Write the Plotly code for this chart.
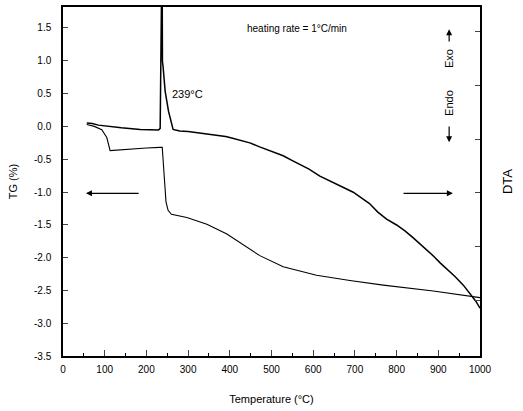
import plotly.graph_objects as go

# TG curve (%)
tg_temp = [57, 75, 93, 105, 113, 150, 200, 233, 238, 241, 244, 247, 252, 260, 297, 345, 393, 440, 472,
           528, 608, 688, 768, 888, 980, 1000]
tg_val = [0.03, 0.0, -0.05, -0.17, -0.37, -0.35, -0.33, -0.32, -0.32, -0.6, -0.95, -1.15, -1.28, -1.34,
          -1.39, -1.49, -1.64, -1.84, -1.97, -2.14, -2.27, -2.35, -2.42, -2.51, -2.59, -2.61]

# DTA curve (arbitrary units)
dta_temp = [57, 70, 85, 105, 140, 185, 215, 229, 233, 235, 236.5, 237.5, 238.5, 240, 245, 253, 264, 280,
            300, 320, 328, 345, 360, 375, 390, 400, 415, 430, 448, 470, 490, 510, 528, 550, 570, 590,
            616, 635, 650, 665, 680, 696, 715, 735, 755, 776, 800, 820, 840, 856, 875, 890, 905, 920,
            940, 960, 976, 990, 1000]
dta_val = [3.30, 3.29, 3.26, 3.24, 3.21, 3.18, 3.17, 3.17, 3.20, 4.2, 5.6, 6.6, 4.45, 4.35, 3.89, 3.52,
           3.18, 3.15, 3.14, 3.12, 3.11, 3.10, 3.08, 3.06, 3.05, 3.03, 3.00, 2.97, 2.93, 2.86, 2.80, 2.73,
           2.69, 2.60, 2.52, 2.44, 2.31, 2.24, 2.18, 2.14, 2.07, 2.01, 1.91, 1.80, 1.64, 1.51, 1.40, 1.29,
           1.16, 1.05, 0.91, 0.81, 0.69, 0.59, 0.44, 0.28, 0.12, -0.02, -0.15]

x_ticks = [0, 100, 200, 300, 400, 500, 600, 700, 800, 900, 1000]
y_ticks = [1.5, 1.0, 0.5, 0.0, -0.5, -1.0, -1.5, -2.0, -2.5, -3.0, -3.5]
y_tick_text = ["1.5", "1.0", "0.5", "0.0", "-0.5", "-1.0", "-1.5", "-2.0", "-2.5", "-3.0", "-3.5"]
y2_ticks = [0, 1, 2, 3, 4, 5]

FONT = "Liberation Sans, Arial, sans-serif"

fig = go.Figure()
fig.add_trace(go.Scatter(x=tg_temp, y=tg_val, mode="lines", line=dict(color="black", width=1.1),
                         showlegend=False, yaxis="y"))
fig.add_trace(go.Scatter(x=dta_temp, y=dta_val, mode="lines", line=dict(color="black", width=1.5),
                         showlegend=False, yaxis="y2"))

fig.update_layout(
    width=523, height=411,
    margin=dict(l=63, r=43, t=5, b=55),
    paper_bgcolor="white", plot_bgcolor="white",
    font=dict(family=FONT, color="black", size=10),
    xaxis=dict(range=[0, 1000], tickvals=x_ticks, ticks="inside", ticklen=6, tickwidth=1.2,
               showline=True, linecolor="black", linewidth=1.5, mirror=True, showgrid=False,
               zeroline=False, tickfont=dict(size=10), ticklabelstandoff=3,
               minor=dict(dtick=50, ticks="inside", ticklen=3, tickcolor="black", showgrid=False),
               title=dict(text="Temperature (°C)", font=dict(size=11), standoff=22)),
    yaxis=dict(range=[-3.5, 1.82], tickvals=y_ticks, ticktext=y_tick_text, ticks="inside", ticklen=5,
               tickwidth=1.2, showline=True, linecolor="black", linewidth=1.5, showgrid=False,
               zeroline=False, tickfont=dict(size=10), ticklabelstandoff=8,
               title=dict(text="TG (%)", font=dict(size=11), standoff=14)),
    yaxis2=dict(range=[-1.04, 5.46], overlaying="y", side="right", tickvals=y2_ticks,
                showticklabels=False, ticks="inside", ticklen=5, tickwidth=1.2, showline=True,
                linecolor="black", linewidth=1.5, showgrid=False, zeroline=False,
                title=dict(text="DTA", font=dict(size=13), standoff=22)),
)

fig.add_annotation(x=436, y=1.49, xref="x", yref="y", text="heating rate = 1°C/min", showarrow=False,
                   xanchor="left", font=dict(size=10))
fig.add_annotation(x=257, y=0.5, xref="x", yref="y", text="239°C", showarrow=False,
                   xanchor="left", font=dict(size=11))
fig.add_annotation(x=926, y=1.03, xref="x", yref="y", text="Exo", textangle=-90,
                   showarrow=False, font=dict(size=11))
fig.add_annotation(x=926, y=0.36, xref="x", yref="y", text="Endo", textangle=-90,
                   showarrow=False, font=dict(size=11))
# Exo / Endo arrows
fig.add_annotation(x=926, y=1.48, ax=926, ay=1.27, xref="x", yref="y", axref="x", ayref="y",
                   text="", showarrow=True, arrowhead=2, arrowsize=1, arrowwidth=1.2, arrowcolor="black")
fig.add_annotation(x=926, y=-0.24, ax=926, ay=0.02, xref="x", yref="y", axref="x", ayref="y",
                   text="", showarrow=True, arrowhead=2, arrowsize=1, arrowwidth=1.2, arrowcolor="black")
# TG / DTA direction arrows
fig.add_annotation(x=55, y=-1.02, ax=185, ay=-1.02, xref="x", yref="y", axref="x", ayref="y",
                   text="", showarrow=True, arrowhead=2, arrowsize=1, arrowwidth=1.2, arrowcolor="black")
fig.add_annotation(x=935, y=-1.02, ax=813, ay=-1.02, xref="x", yref="y", axref="x", ayref="y",
                   text="", showarrow=True, arrowhead=2, arrowsize=1, arrowwidth=1.2, arrowcolor="black")

fig.write_html("out.html")
